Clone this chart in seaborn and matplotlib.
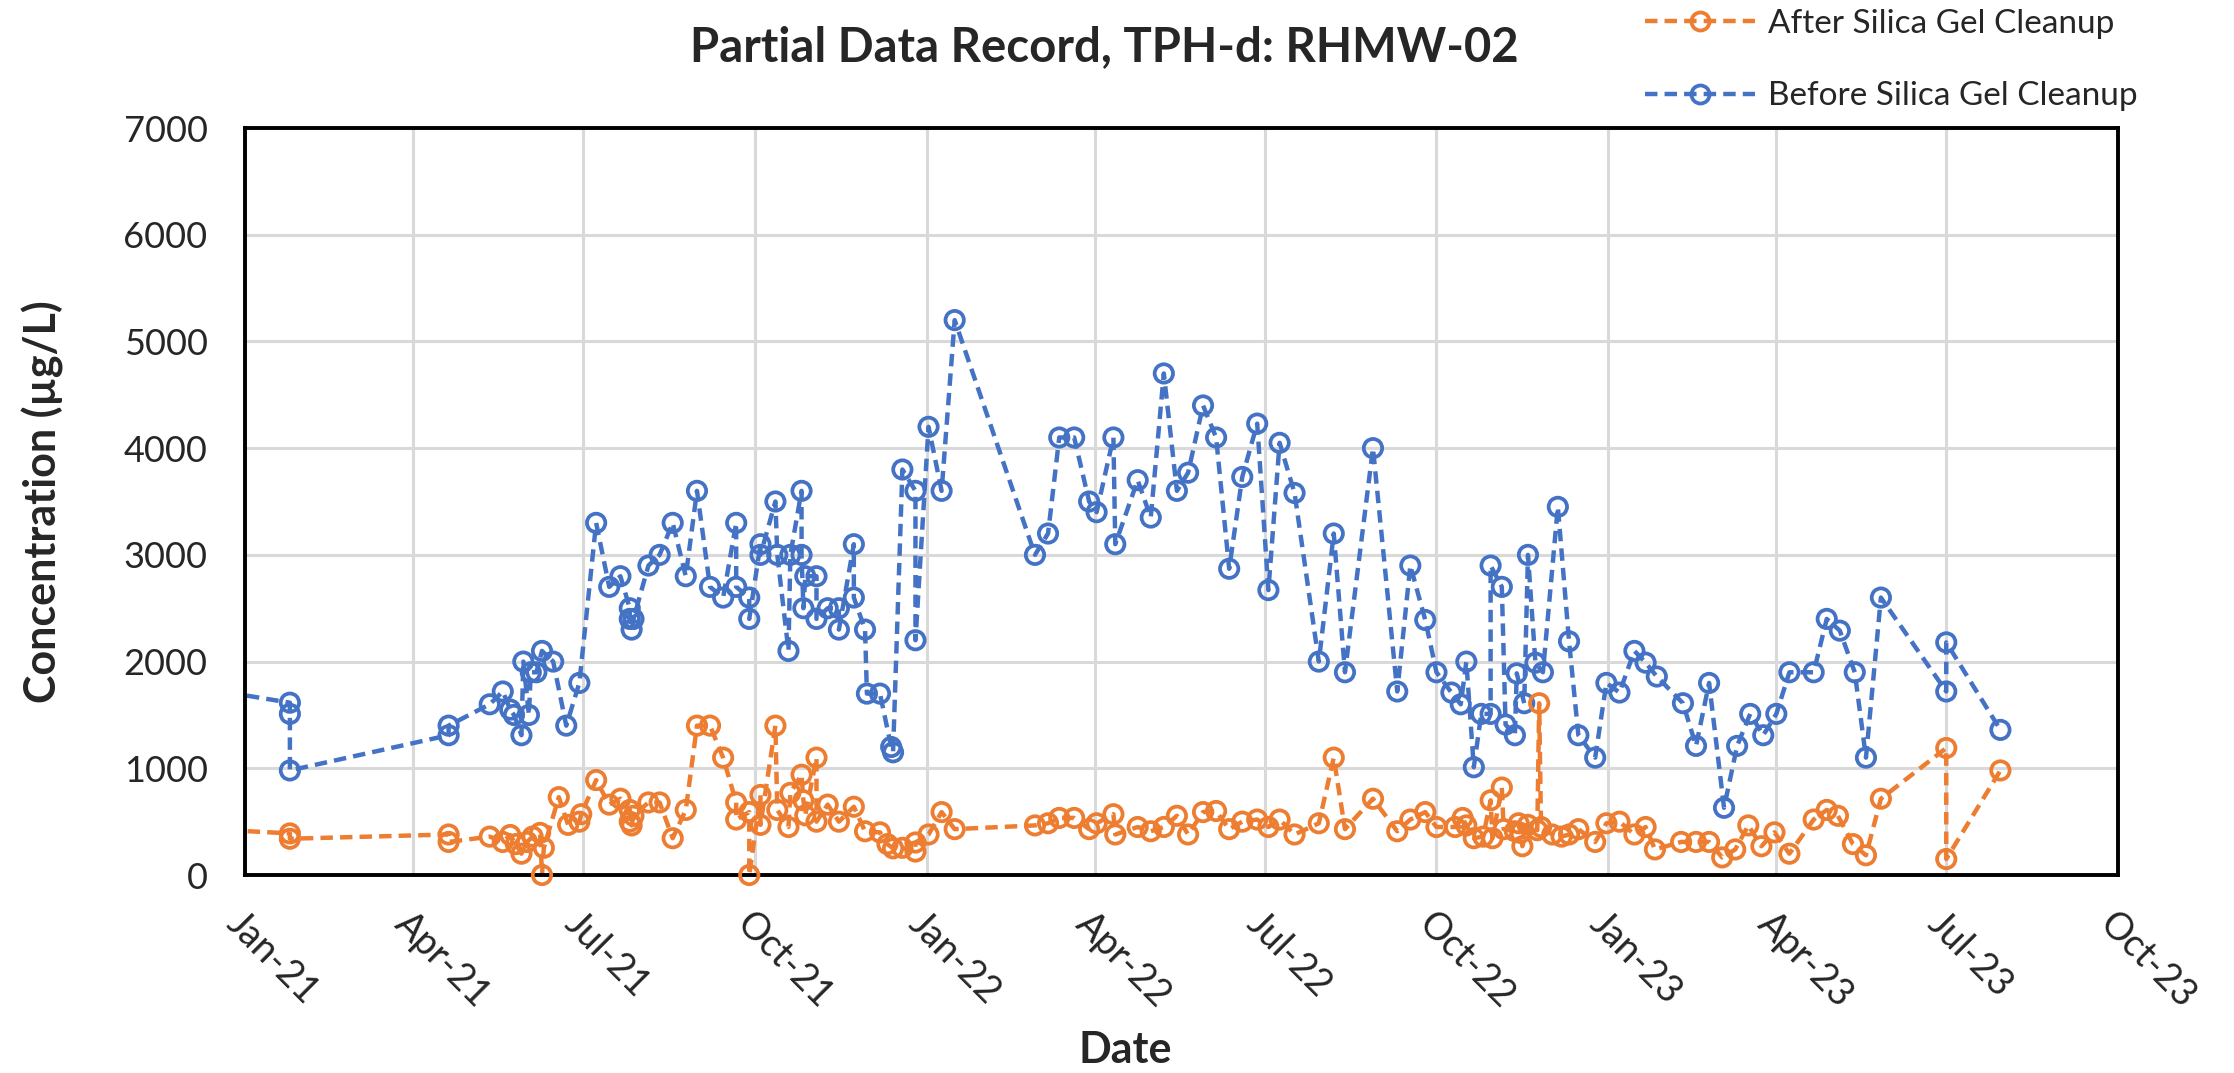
import numpy as np
import pandas as pd
import matplotlib
matplotlib.use('Agg')
import matplotlib.pyplot as plt
import matplotlib.dates as mdates
from matplotlib.lines import Line2D
import seaborn as sns

# --- data ---
before_dates = [
    '2020-12-02', '2021-01-25', '2021-01-25', '2021-01-25', '2021-04-20', '2021-04-20',
    '2021-05-12', '2021-05-19', '2021-05-23', '2021-05-25', '2021-05-29', '2021-05-30',
    '2021-06-02', '2021-06-03', '2021-06-06', '2021-06-09', '2021-06-15', '2021-06-22',
    '2021-06-29', '2021-07-08', '2021-07-15', '2021-07-21', '2021-07-26', '2021-07-26',
    '2021-07-27', '2021-07-28', '2021-08-05', '2021-08-11', '2021-08-18', '2021-08-25',
    '2021-08-31', '2021-09-07', '2021-09-14', '2021-09-21', '2021-09-21', '2021-09-28',
    '2021-09-28', '2021-10-04', '2021-10-04', '2021-10-12', '2021-10-13', '2021-10-19',
    '2021-10-20', '2021-10-26', '2021-10-26', '2021-10-27', '2021-10-28', '2021-11-03',
    '2021-11-03', '2021-11-09', '2021-11-15', '2021-11-15', '2021-11-23', '2021-11-23',
    '2021-11-29', '2021-11-30', '2021-12-07', '2021-12-13', '2021-12-14', '2021-12-19',
    '2021-12-26', '2021-12-26', '2022-01-02', '2022-01-09', '2022-01-16', '2022-02-28',
    '2022-03-07', '2022-03-13', '2022-03-21', '2022-03-29', '2022-04-02', '2022-04-11',
    '2022-04-12', '2022-04-24', '2022-05-01', '2022-05-08', '2022-05-15', '2022-05-21',
    '2022-05-29', '2022-06-05', '2022-06-12', '2022-06-19', '2022-06-27', '2022-07-03',
    '2022-07-09', '2022-07-17', '2022-07-30', '2022-08-07', '2022-08-13', '2022-08-28',
    '2022-09-10', '2022-09-17', '2022-09-25', '2022-10-01', '2022-10-09', '2022-10-14',
    '2022-10-17', '2022-10-21', '2022-10-25', '2022-10-30', '2022-10-30', '2022-11-05',
    '2022-11-07', '2022-11-12', '2022-11-13', '2022-11-17', '2022-11-19', '2022-11-23',
    '2022-11-27', '2022-12-05', '2022-12-11', '2022-12-16', '2022-12-25', '2022-12-31',
    '2023-01-07', '2023-01-15', '2023-01-21', '2023-01-27', '2023-02-10', '2023-02-17',
    '2023-02-24', '2023-03-04', '2023-03-11', '2023-03-18', '2023-03-25', '2023-04-01',
    '2023-04-08', '2023-04-21', '2023-04-28', '2023-05-05', '2023-05-13', '2023-05-19',
    '2023-05-27', '2023-07-01', '2023-07-01', '2023-07-30',
]
before_vals = [
    1770, 1615, 1510, 980, 1310, 1400,
    1600, 1720, 1550, 1500, 1310, 2000,
    1500, 1900, 1900, 2100, 2000, 1400,
    1800, 3300, 2700, 2800, 2500, 2400,
    2300, 2400, 2900, 3000, 3300, 2800,
    3600, 2700, 2600, 3300, 2700, 2600,
    2400, 3100, 3000, 3500, 3000, 2100,
    3000, 3600, 3000, 2500, 2800, 2800,
    2400, 2500, 2500, 2300, 3100, 2600,
    2300, 1700, 1700, 1200, 1150, 3800,
    3600, 2200, 4200, 3600, 5200, 3000,
    3200, 4100, 4100, 3500, 3400, 4100,
    3100, 3700, 3350, 4700, 3600, 3770,
    4400, 4100, 2870, 3730, 4230, 2670,
    4050, 3580, 2000, 3200, 1900, 4000,
    1720, 2900, 2390, 1900, 1710, 1600,
    2000, 1010, 1510, 1510, 2900, 2700,
    1410, 1310, 1890, 1610, 3000, 1990,
    1900, 3450, 2190, 1310, 1100, 1800,
    1710, 2100, 1990, 1860, 1610, 1210,
    1800, 630, 1210, 1510, 1310, 1510,
    1900, 1900, 2400, 2290, 1900, 1100,
    2600, 1720, 2180, 1360,
]

after_dates = [
    '2020-12-02', '2021-01-25', '2021-01-25', '2021-04-20', '2021-04-20', '2021-05-12',
    '2021-05-19', '2021-05-23', '2021-05-26', '2021-05-29', '2021-06-01', '2021-06-04',
    '2021-06-08', '2021-06-09', '2021-06-10', '2021-06-18', '2021-06-23', '2021-06-29',
    '2021-06-30', '2021-07-08', '2021-07-15', '2021-07-21', '2021-07-26', '2021-07-26',
    '2021-07-27', '2021-07-28', '2021-08-05', '2021-08-11', '2021-08-18', '2021-08-25',
    '2021-08-31', '2021-09-07', '2021-09-14', '2021-09-21', '2021-09-21', '2021-09-28',
    '2021-09-28', '2021-10-04', '2021-10-04', '2021-10-12', '2021-10-13', '2021-10-19',
    '2021-10-20', '2021-10-26', '2021-10-27', '2021-10-28', '2021-11-03', '2021-11-03',
    '2021-11-09', '2021-11-15', '2021-11-23', '2021-11-29', '2021-12-07', '2021-12-11',
    '2021-12-14', '2021-12-19', '2021-12-26', '2021-12-26', '2022-01-02', '2022-01-09',
    '2022-01-16', '2022-02-28', '2022-03-07', '2022-03-13', '2022-03-21', '2022-03-29',
    '2022-04-02', '2022-04-11', '2022-04-12', '2022-04-24', '2022-05-01', '2022-05-08',
    '2022-05-15', '2022-05-21', '2022-05-29', '2022-06-05', '2022-06-12', '2022-06-19',
    '2022-06-27', '2022-07-03', '2022-07-09', '2022-07-17', '2022-07-30', '2022-08-07',
    '2022-08-13', '2022-08-28', '2022-09-10', '2022-09-17', '2022-09-25', '2022-10-01',
    '2022-10-11', '2022-10-15', '2022-10-17', '2022-10-21', '2022-10-26', '2022-10-30',
    '2022-10-31', '2022-11-05', '2022-11-06', '2022-11-12', '2022-11-14', '2022-11-15',
    '2022-11-16', '2022-11-19', '2022-11-24', '2022-11-25', '2022-11-26', '2022-12-02',
    '2022-12-07', '2022-12-11', '2022-12-16', '2022-12-25', '2022-12-31', '2023-01-07',
    '2023-01-15', '2023-01-21', '2023-01-26', '2023-02-09', '2023-02-17', '2023-02-24',
    '2023-03-03', '2023-03-10', '2023-03-17', '2023-03-24', '2023-03-31', '2023-04-08',
    '2023-04-21', '2023-04-28', '2023-05-04', '2023-05-12', '2023-05-19', '2023-05-27',
    '2023-07-01', '2023-07-01', '2023-07-30',
]
after_vals = [
    440, 390, 340, 380, 310, 360,
    310, 375, 290, 200, 310, 360,
    395, 0, 255, 730, 470, 500,
    570, 890, 660, 715, 610, 500,
    465, 555, 680, 680, 345, 610,
    1400, 1400, 1100, 680, 520, 590,
    0, 750, 470, 1400, 610, 450,
    770, 940, 700, 560, 1100, 500,
    660, 500, 640, 410, 400, 290,
    250, 255, 220, 305, 380, 590,
    430, 465, 485, 535, 535, 430,
    485, 570, 380, 450, 410, 450,
    555, 380, 590, 600, 430, 500,
    520, 450, 520, 380, 485, 1100,
    430, 715, 410, 520, 590, 450,
    450, 535, 465, 345, 360, 700,
    345, 820, 430, 410, 485, 395,
    270, 470, 420, 1610, 450, 380,
    360, 380, 430, 310, 485, 500,
    380, 450, 240, 310, 310, 310,
    165, 240, 465, 270, 400, 200,
    520, 610, 555, 290, 185, 715,
    1190, 150, 980,
]

series_labels = ['After Silica Gel Cleanup', 'Before Silica Gel Cleanup']
series_colors = ['#ED7D31', '#4472C4']
y_ticks = [0, 1000, 2000, 3000, 4000, 5000, 6000, 7000]
x_start, x_end = '2021-01-01', '2023-10-01'

df_before = pd.DataFrame({'date': pd.to_datetime(before_dates), 'value': before_vals})
df_after = pd.DataFrame({'date': pd.to_datetime(after_dates), 'value': after_vals})

sns.set_style('white')
plt.rcParams['font.family'] = ['Lato', 'DejaVu Sans']

fig = plt.figure(figsize=(22.34, 10.73), dpi=100)
ax = fig.add_axes([0.1097, 0.1845, 0.8384, 0.6962])

dash = (2.8, 1.6)
lw = 3.2
t0 = pd.Timestamp(x_start)
for df, col in [(df_before, series_colors[1]), (df_after, series_colors[0])]:
    sns.lineplot(data=df, x='date', y='value', estimator=None, sort=False,
                 color=col, lw=lw, ls='--', ax=ax, zorder=2)
    ax.lines[-1].set_dashes(dash)
    # markers not clipped so the zero points show their full circle
    sns.scatterplot(data=df[df['date'] >= t0], x='date', y='value', marker='o', s=175,
                    facecolor='none', edgecolor=col, linewidth=2.7, ax=ax,
                    clip_on=False, zorder=3)

ax.set_xlim(pd.Timestamp(x_start), pd.Timestamp(x_end))
ax.set_ylim(0, 7000)
ax.set_yticks(y_ticks)
ax.xaxis.set_major_locator(mdates.MonthLocator(bymonth=[1, 4, 7, 10]))
ax.xaxis.set_major_formatter(mdates.DateFormatter('%b-%y'))
ax.grid(True, color='#D9D9D9', lw=2.2)
ax.set_axisbelow(True)
for sp in ax.spines.values():
    sp.set_visible(True)
    sp.set_color('black')
    sp.set_linewidth(2.8)
ax.tick_params(axis='y', length=0, labelsize=26, pad=27)
ax.tick_params(axis='x', length=0, labelsize=27, pad=22)
for lab in ax.get_xticklabels():
    lab.set_rotation(-45)
    lab.set_ha('left')
    lab.set_va('top')
    lab.set_rotation_mode('anchor')
ax.set_xlabel('')
ax.set_ylabel('')

fig.text(1104 / 2234, 1 - 47 / 1073, 'Partial Data Record, TPH-d: RHMW-02',
         ha='center', va='center', fontsize=34, fontweight='bold')
fig.text(1125 / 2234, 1 - 1050 / 1073, 'Date', ha='center', va='center',
         fontsize=31, fontweight='bold')
fig.text(43 / 2234, 1 - 502 / 1073, 'Concentration (µg/L)', ha='center', va='center',
         rotation=90, fontsize=31, fontweight='bold')

handles = [Line2D([], [], color=c, lw=lw, ls='--', dashes=dash, marker='o', ms=13,
                  mfc='none', mec=c, mew=2.7) for c in series_colors]
fig.legend(handles, series_labels, loc='upper left',
           bbox_to_anchor=(1645 / 2234, 1 - 9 / 1073), frameon=False, fontsize=24,
           handlelength=3.3, handletextpad=0.4, labelspacing=1.27,
           borderpad=0, borderaxespad=0)

fig.savefig('out.png', dpi=100)
